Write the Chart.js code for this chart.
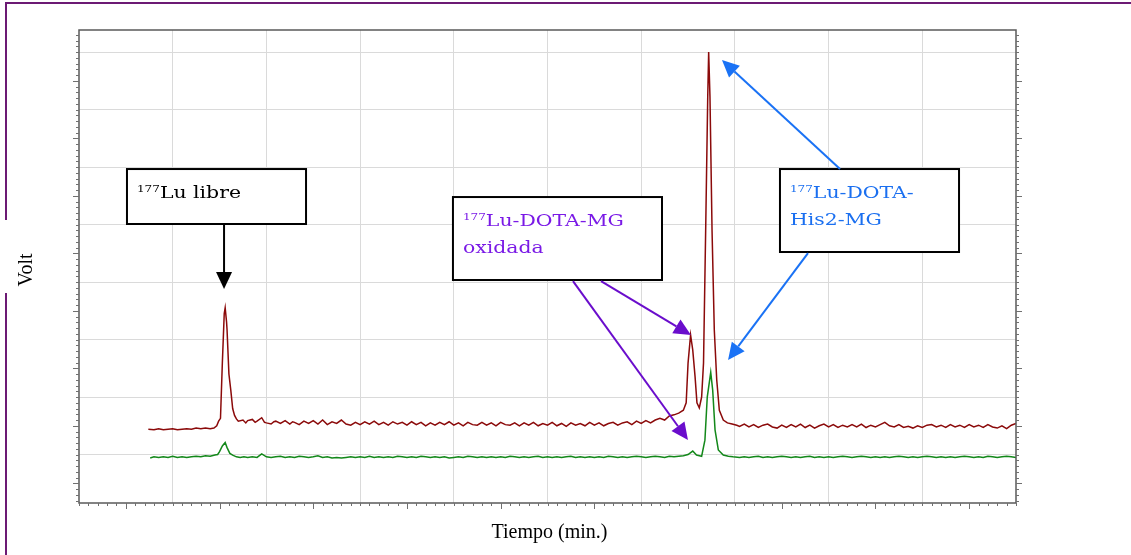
<!DOCTYPE html>
<html>
<head>
<meta charset="utf-8">
<script src="https://cdn.jsdelivr.net/npm/chart.js@4/dist/chart.umd.min.js"></script>
<style>
  html, body { margin: 0; padding: 0; background: #fff; }
  #wrap { width: 1131px; height: 555px; }
</style>
</head>
<body>
<div id="wrap"><canvas id="cromatograma" width="1131" height="555"></canvas></div>
<script>
// [tiempo (min), señal]
const trazaRoja = [
  [0.74,1.44],[0.80,1.43],[0.85,1.45],[0.90,1.43],[0.95,1.44],[1.00,1.45],[1.05,1.43],[1.10,1.44],
  [1.15,1.45],[1.20,1.44],[1.25,1.46],[1.30,1.45],[1.35,1.46],[1.40,1.45],[1.44,1.46],[1.47,1.50],
  [1.49,1.58],[1.51,1.63],[1.53,2.60],[1.55,3.45],[1.56,3.55],[1.575,3.30],[1.58,3.17],[1.60,2.40],
  [1.62,2.12],[1.64,1.80],[1.66,1.68],[1.68,1.62],[1.70,1.58],
  [1.75,1.60],[1.78,1.55],[1.80,1.59],[1.85,1.61],[1.88,1.56],[1.90,1.58],[1.95,1.64],[1.98,1.56],
  [2.00,1.55],[2.05,1.53],[2.08,1.57],[2.10,1.58],[2.15,1.54],[2.20,1.59],[2.25,1.53],[2.28,1.57],
  [2.30,1.56],[2.35,1.52],[2.40,1.58],[2.45,1.54],[2.50,1.59],[2.55,1.53],[2.60,1.60],[2.65,1.52],
  [2.70,1.57],[2.75,1.54],[2.80,1.60],[2.85,1.53],[2.90,1.51],[2.95,1.56],[3.00,1.52],[3.05,1.57],
  [3.10,1.53],[3.15,1.58],[3.20,1.52],[3.25,1.56],[3.30,1.51],[3.35,1.57],[3.40,1.53],[3.45,1.56],
  [3.50,1.51],[3.55,1.57],[3.60,1.52],[3.65,1.56],[3.70,1.50],[3.75,1.55],[3.80,1.51],[3.85,1.56],
  [3.90,1.52],[3.95,1.57],[4.00,1.51],[4.05,1.55],[4.10,1.50],[4.15,1.56],[4.20,1.52],[4.25,1.51],
  [4.30,1.56],[4.35,1.51],[4.40,1.55],[4.45,1.50],[4.50,1.56],[4.55,1.52],[4.60,1.51],[4.65,1.55],
  [4.70,1.50],[4.75,1.55],[4.80,1.51],[4.85,1.56],[4.90,1.50],[4.95,1.54],[5.00,1.51],[5.05,1.56],
  [5.10,1.50],[5.15,1.54],[5.20,1.49],[5.25,1.55],[5.30,1.51],[5.35,1.54],[5.40,1.50],[5.45,1.56],
  [5.50,1.51],[5.55,1.55],[5.60,1.50],[5.65,1.54],[5.70,1.56],[5.75,1.51],[5.80,1.55],[5.85,1.57],
  [5.90,1.52],[5.95,1.58],[6.00,1.54],[6.05,1.59],[6.10,1.55],[6.15,1.60],[6.20,1.63],[6.25,1.60],
  [6.30,1.67],[6.35,1.69],[6.40,1.72],[6.45,1.77],[6.48,1.90],
  [6.50,2.59],[6.527,3.08],[6.55,2.82],[6.575,2.35],[6.595,1.90],[6.62,1.81],[6.645,2.00],[6.665,2.59],
  [6.688,4.90],[6.71,7.22],[6.72,8.00],[6.734,7.22],[6.756,4.90],[6.78,3.17],[6.806,2.30],[6.834,1.77],
  [6.876,1.60],[6.92,1.55],[6.97,1.53],[7.02,1.51],
  [7.05,1.49],[7.10,1.53],[7.15,1.48],[7.20,1.52],[7.25,1.47],[7.30,1.51],[7.35,1.53],[7.40,1.48],
  [7.45,1.46],[7.50,1.51],[7.55,1.47],[7.60,1.52],[7.65,1.48],[7.70,1.53],[7.75,1.47],[7.80,1.51],
  [7.85,1.46],[7.90,1.50],[7.95,1.53],[8.00,1.48],[8.05,1.52],[8.10,1.47],[8.15,1.51],[8.20,1.48],
  [8.25,1.52],[8.30,1.48],[8.35,1.53],[8.40,1.47],[8.45,1.51],[8.50,1.48],[8.55,1.52],[8.60,1.56],
  [8.65,1.50],[8.70,1.48],[8.75,1.52],[8.80,1.47],[8.85,1.49],[8.90,1.46],[8.95,1.50],[9.00,1.47],
  [9.05,1.51],[9.10,1.52],[9.15,1.48],[9.20,1.51],[9.25,1.47],[9.30,1.52],[9.35,1.48],[9.40,1.51],
  [9.45,1.47],[9.50,1.52],[9.55,1.48],[9.60,1.51],[9.65,1.47],[9.70,1.52],[9.75,1.48],[9.80,1.46],
  [9.85,1.50],[9.90,1.45],[9.95,1.51],[10.0,1.54]
];

const trazaVerde = [
  [0.76,0.94],[0.80,0.96],[0.85,0.95],[0.90,0.96],[0.95,0.95],[1.00,0.97],[1.05,0.95],[1.10,0.96],
  [1.15,0.95],[1.20,0.96],[1.25,0.97],[1.30,0.96],[1.35,0.98],[1.40,0.97],[1.45,0.99],[1.48,1.00],
  [1.50,1.05],[1.53,1.15],[1.56,1.21],[1.58,1.12],[1.61,1.02],[1.64,0.99],[1.68,0.96],[1.72,0.95],
  [1.76,0.96],[1.80,0.95],[1.85,0.96],[1.90,0.95],[1.95,1.01],[2.00,0.96],[2.05,0.95],[2.10,0.96],
  [2.15,0.97],[2.20,0.95],[2.25,0.96],[2.30,0.95],[2.35,0.97],[2.40,0.96],[2.45,0.95],[2.50,0.96],
  [2.55,0.98],[2.60,0.95],[2.65,0.96],[2.70,0.94],[2.75,0.95],[2.80,0.94],[2.85,0.95],[2.90,0.96],
  [2.95,0.95],[3.00,0.96],[3.05,0.95],[3.10,0.97],[3.15,0.95],[3.20,0.96],[3.25,0.95],[3.30,0.96],
  [3.35,0.95],[3.40,0.97],[3.45,0.96],[3.50,0.95],[3.55,0.96],[3.60,0.95],[3.65,0.97],[3.70,0.96],
  [3.75,0.95],[3.80,0.96],[3.85,0.95],[3.90,0.96],[3.95,0.94],[4.00,0.95],[4.05,0.96],[4.10,0.95],
  [4.15,0.97],[4.20,0.96],[4.25,0.95],[4.30,0.96],[4.35,0.95],[4.40,0.96],[4.45,0.95],[4.50,0.96],
  [4.55,0.95],[4.60,0.97],[4.65,0.96],[4.70,0.95],[4.75,0.96],[4.80,0.95],[4.85,0.96],[4.90,0.97],
  [4.95,0.95],[5.00,0.96],[5.05,0.95],[5.10,0.96],[5.15,0.95],[5.20,0.96],[5.25,0.97],[5.30,0.95],
  [5.35,0.96],[5.40,0.95],[5.45,0.96],[5.50,0.95],[5.55,0.96],[5.60,0.95],[5.65,0.97],[5.70,0.96],
  [5.75,0.95],[5.80,0.96],[5.85,0.95],[5.90,0.96],[5.95,0.97],[6.00,0.96],[6.05,0.95],[6.10,0.96],
  [6.15,0.97],[6.20,0.96],[6.25,0.95],[6.30,0.97],[6.35,0.96],[6.40,0.97],[6.45,0.98],
  [6.50,1.00],[6.55,1.06],[6.59,0.99],[6.645,0.97],[6.68,1.25],[6.705,2.00],[6.742,2.43],[6.763,2.12],
  [6.788,1.43],[6.823,1.08],[6.876,0.99],[6.93,0.97],[6.98,0.96],
  [7.05,0.95],[7.10,0.96],[7.15,0.95],[7.20,0.96],[7.25,0.97],[7.30,0.95],[7.35,0.96],[7.40,0.95],
  [7.45,0.96],[7.50,0.97],[7.55,0.96],[7.60,0.95],[7.65,0.96],[7.70,0.95],[7.75,0.96],[7.80,0.97],
  [7.85,0.95],[7.90,0.96],[7.95,0.95],[8.00,0.96],[8.05,0.95],[8.10,0.96],[8.15,0.97],[8.20,0.96],
  [8.25,0.95],[8.30,0.96],[8.35,0.97],[8.40,0.96],[8.45,0.95],[8.50,0.96],[8.55,0.95],[8.60,0.96],
  [8.65,0.95],[8.70,0.96],[8.75,0.97],[8.80,0.96],[8.85,0.95],[8.90,0.96],[8.95,0.95],[9.00,0.96],
  [9.05,0.97],[9.10,0.96],[9.15,0.95],[9.20,0.96],[9.25,0.95],[9.30,0.96],[9.35,0.95],[9.40,0.96],
  [9.45,0.97],[9.50,0.96],[9.55,0.95],[9.60,0.96],[9.65,0.95],[9.70,0.97],[9.75,0.96],[9.80,0.95],
  [9.85,0.96],[9.90,0.97],[9.95,0.96],[10.0,0.95]
];

const tituloX = 'Tiempo (min.)';
const tituloY = 'Volt';
const etiquetaLibre = ['Lu libre'];
const etiquetaOxidada = ['Lu-DOTA-MG', 'oxidada'];
const etiquetaHis = ['Lu-DOTA-', 'His2-MG'];

// callouts, in axis units (box corners, arrow start -> tip)
const notas = [
  { lines: etiquetaLibre, color: '#000000', arrowColor: '#000000', box: [0.512, 5.965, 2.423, 5.009],
    arrows: [[1.548, 5.009, 1.548, 3.878]] },
  { lines: etiquetaOxidada, color: '#7a1ae6', arrowColor: '#6a0dcc', box: [3.991, 5.478, 6.222, 4.035],
    arrows: [[5.272, 4.017, 6.499, 1.252], [5.571, 4.017, 6.531, 3.078]] },
  { lines: etiquetaHis, color: '#1a6ff0', arrowColor: '#1a72f5', box: [7.481, 5.965, 9.392, 4.522],
    arrows: [[8.122, 5.965, 6.862, 7.861], [7.78, 4.504, 6.927, 2.643]] }
];

function flecha(ctx, x1, y1, x2, y2, color) {
  const a = Math.atan2(y2 - y1, x2 - x1);
  const len = 17, half = 8;
  const bx = x2 - len * Math.cos(a), by = y2 - len * Math.sin(a);
  ctx.strokeStyle = color;
  ctx.lineWidth = 2;
  ctx.beginPath();
  ctx.moveTo(x1, y1);
  ctx.lineTo(bx, by);
  ctx.stroke();
  ctx.fillStyle = color;
  ctx.beginPath();
  ctx.moveTo(x2, y2);
  ctx.lineTo(bx + half * Math.sin(a), by - half * Math.cos(a));
  ctx.lineTo(bx - half * Math.sin(a), by + half * Math.cos(a));
  ctx.closePath();
  ctx.fill();
}

// wide serif text: DejaVu Serif stretched horizontally
function textoAncho(ctx, txt, x, y, size) {
  const k = 1.2;
  ctx.save();
  ctx.translate(x, y);
  ctx.scale(k, 1);
  ctx.font = size + 'px "DejaVu Serif", serif';
  ctx.fillText(txt, 0, 0);
  const w = ctx.measureText(txt).width * k;
  ctx.restore();
  return w;
}

const marco = {
  id: 'marco',
  beforeDraw(chart) {
    const ctx = chart.ctx;
    ctx.save();
    ctx.fillStyle = '#fff';
    ctx.fillRect(0, 0, chart.width, chart.height);
    ctx.strokeStyle = '#6c1a74';
    ctx.lineWidth = 2;
    ctx.beginPath();
    ctx.moveTo(6, chart.height);
    ctx.lineTo(6, 3);
    ctx.lineTo(chart.width, 3);
    ctx.stroke();
    ctx.restore();
  },
  afterDatasetsDraw(chart) {
    const ctx = chart.ctx;
    const { left, right, top, bottom } = chart.chartArea;
    const xs = chart.scales.x, ys = chart.scales.y;
    ctx.save();

    // plot frame
    ctx.strokeStyle = '#5a5a5a';
    ctx.lineWidth = 1.5;
    ctx.strokeRect(left, top, right - left, bottom - top);

    // minor / major tick marks
    ctx.strokeStyle = '#707070';
    ctx.lineWidth = 1;
    ctx.beginPath();
    for (let i = Math.ceil(xs.min * 10); i <= Math.floor(xs.max * 10); i++) {
      const p = Math.round(xs.getPixelForValue(i / 10)) + 0.5;
      const l = i % 10 === 5 ? 6 : 3;
      ctx.moveTo(p, bottom);
      ctx.lineTo(p, bottom + l);
    }
    for (let i = Math.ceil(ys.min * 10); i <= Math.floor(ys.max * 10); i++) {
      const p = Math.round(ys.getPixelForValue(i / 10)) + 0.5;
      const l = i % 10 === 5 ? 6 : 3;
      ctx.moveTo(left, p);
      ctx.lineTo(left - l, p);
      ctx.moveTo(right, p);
      ctx.lineTo(right + l, p);
    }
    ctx.stroke();

    // axis titles
    ctx.fillStyle = '#000';
    ctx.font = '20px "Liberation Serif", "Times New Roman", serif';
    ctx.textAlign = 'center';
    ctx.textBaseline = 'alphabetic';
    ctx.fillText(tituloX, (left + right) / 2 + 2, 538);
    ctx.fillStyle = '#fff';
    ctx.fillRect(4, 220, 30, 73);
    ctx.save();
    ctx.translate(32, 270);
    ctx.rotate(-Math.PI / 2);
    ctx.fillStyle = '#000';
    ctx.fillText(tituloY, 0, 0);
    ctx.restore();

    // callout boxes and arrows
    notas.forEach(n => {
      const x1 = xs.getPixelForValue(n.box[0]), y1 = ys.getPixelForValue(n.box[1]);
      const x2 = xs.getPixelForValue(n.box[2]), y2 = ys.getPixelForValue(n.box[3]);
      ctx.fillStyle = '#fff';
      ctx.fillRect(x1, y1, x2 - x1, y2 - y1);
      ctx.strokeStyle = '#000';
      ctx.lineWidth = 2;
      ctx.strokeRect(x1, y1, x2 - x1, y2 - y1);
      ctx.textAlign = 'left';
      ctx.fillStyle = n.color;
      n.lines.forEach((t, k) => {
        let tx = x1 + 10;
        const ty = y1 + 29 + k * 26.7;
        if (k === 0) tx += textoAncho(ctx, '177', tx, ty - 6, 10);
        textoAncho(ctx, t, tx, ty, 17);
      });
      n.arrows.forEach(a => {
        flecha(ctx, xs.getPixelForValue(a[0]), ys.getPixelForValue(a[1]),
          xs.getPixelForValue(a[2]), ys.getPixelForValue(a[3]), n.arrowColor);
      });
    });
    ctx.restore();
  }
};

const soloEnteros = scale => {
  scale.ticks = scale.ticks.filter(t => Number.isInteger(t.value) && t.value > scale.min && t.value < scale.max);
};

new Chart(document.getElementById('cromatograma'), {
  type: 'line',
  data: {
    datasets: [{
      label: 'Radiactividad',
      data: trazaRoja,
      borderColor: '#8b0a0a',
      borderWidth: 1.5,
      pointRadius: 0,
      tension: 0
    }, {
      label: 'UV',
      data: trazaVerde,
      borderColor: '#13881a',
      borderWidth: 1.5,
      pointRadius: 0,
      tension: 0
    }]
  },
  options: {
    responsive: false,
    animation: false,
    layout: { padding: { left: 79, right: 115, top: 30, bottom: 52 } },
    plugins: { legend: { display: false }, tooltip: { enabled: false } },
    scales: {
      x: {
        type: 'linear',
        min: 0,
        max: 10,
        afterBuildTicks: soloEnteros,
        ticks: { display: false, stepSize: 1 },
        grid: { color: '#dadada', lineWidth: 1, drawTicks: false },
        border: { display: false }
      },
      y: {
        type: 'linear',
        min: 0.157,
        max: 8.383,
        afterBuildTicks: soloEnteros,
        ticks: { display: false, stepSize: 1 },
        grid: { color: '#dadada', lineWidth: 1, drawTicks: false },
        border: { display: false }
      }
    }
  },
  plugins: [marco]
});
</script>
</body>
</html>
